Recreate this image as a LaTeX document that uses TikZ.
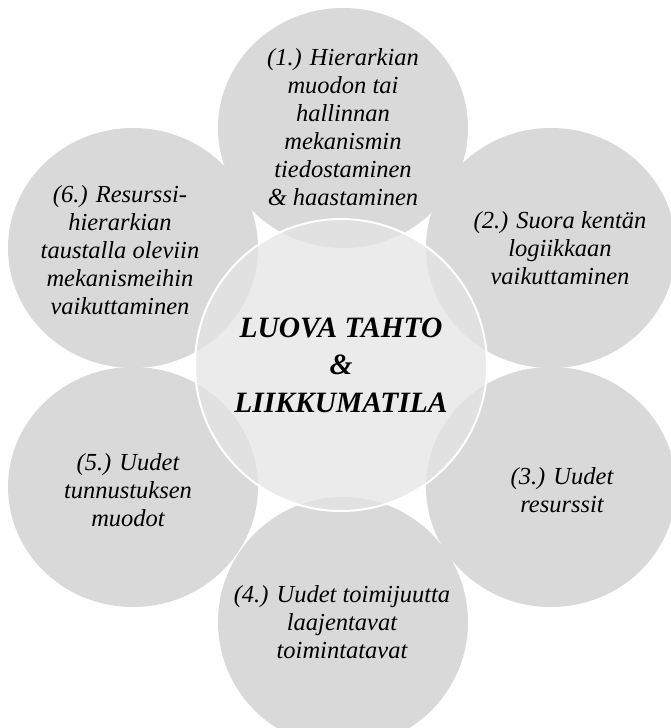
\documentclass[tikz,border=0pt]{standalone}
\usepackage{fontspec}
\setmainfont{Liberation Serif}
\usetikzlibrary{shapes.geometric}
\definecolor{petalgray}{HTML}{D9D9D9}
\definecolor{hubgray}{HTML}{E4E4E4}
\tikzset{
  petal/.style={ellipse, fill=petalgray, draw=none, minimum width=250pt, minimum height=240pt, inner sep=0pt},
  hub/.style={circle, fill=hubgray, fill opacity=0.75, draw=white, draw opacity=1, line width=2pt, minimum size=292pt, inner sep=0pt},
  ptext/.style={align=center, text=black, inner sep=0pt, font=\fontsize{24.5}{28}\selectfont\itshape},
  htext/.style={align=center, text=black, inner sep=0pt, font=\fontsize{29.5}{37.5}\selectfont\bfseries\itshape}
}
\begin{document}
\begin{tikzpicture}[x=1pt,y=-1pt]
\useasboundingbox (0,0) rectangle (671,728);
\clip (0,0) rectangle (671,728);
% outer petals
\node[petal] (p1) at (343,128) {};
\node[petal] (p2) at (551,248) {};
\node[petal] (p3) at (551,487) {};
\node[petal, minimum height=250pt] (p4) at (343,622) {};
\node[petal] (p5) at (133,487) {};
\node[petal] (p6) at (133,248) {};
% hub
\node[hub] (hub) at (341,365) {};
% texts
\node[ptext] (t1) at (343,127) {(1.) Hierarkian\\muodon tai\\hallinnan\\mekanismin\\tiedostaminen\\\& haastaminen};
\node[ptext] (t2) at (560,248) {(2.) Suora kentän\\logiikkaan\\vaikuttaminen};
\node[ptext] (t3) at (562,490) {(3.) Uudet\\resurssit};
\node[ptext] (t4) at (342,622) {(4.) Uudet toimijuutta\\laajentavat\\toimintatavat};
\node[ptext] (t5) at (128,490) {(5.) Uudet\\tunnustuksen\\muodot};
\node[ptext] (t6) at (120,250) {(6.) Resurssi-\\hierarkian\\taustalla oleviin\\mekanismeihin\\vaikuttaminen};
\node[htext] (th) at (341,365) {LUOVA TAHTO\\\&\\LIIKKUMATILA};
\end{tikzpicture}
\end{document}
